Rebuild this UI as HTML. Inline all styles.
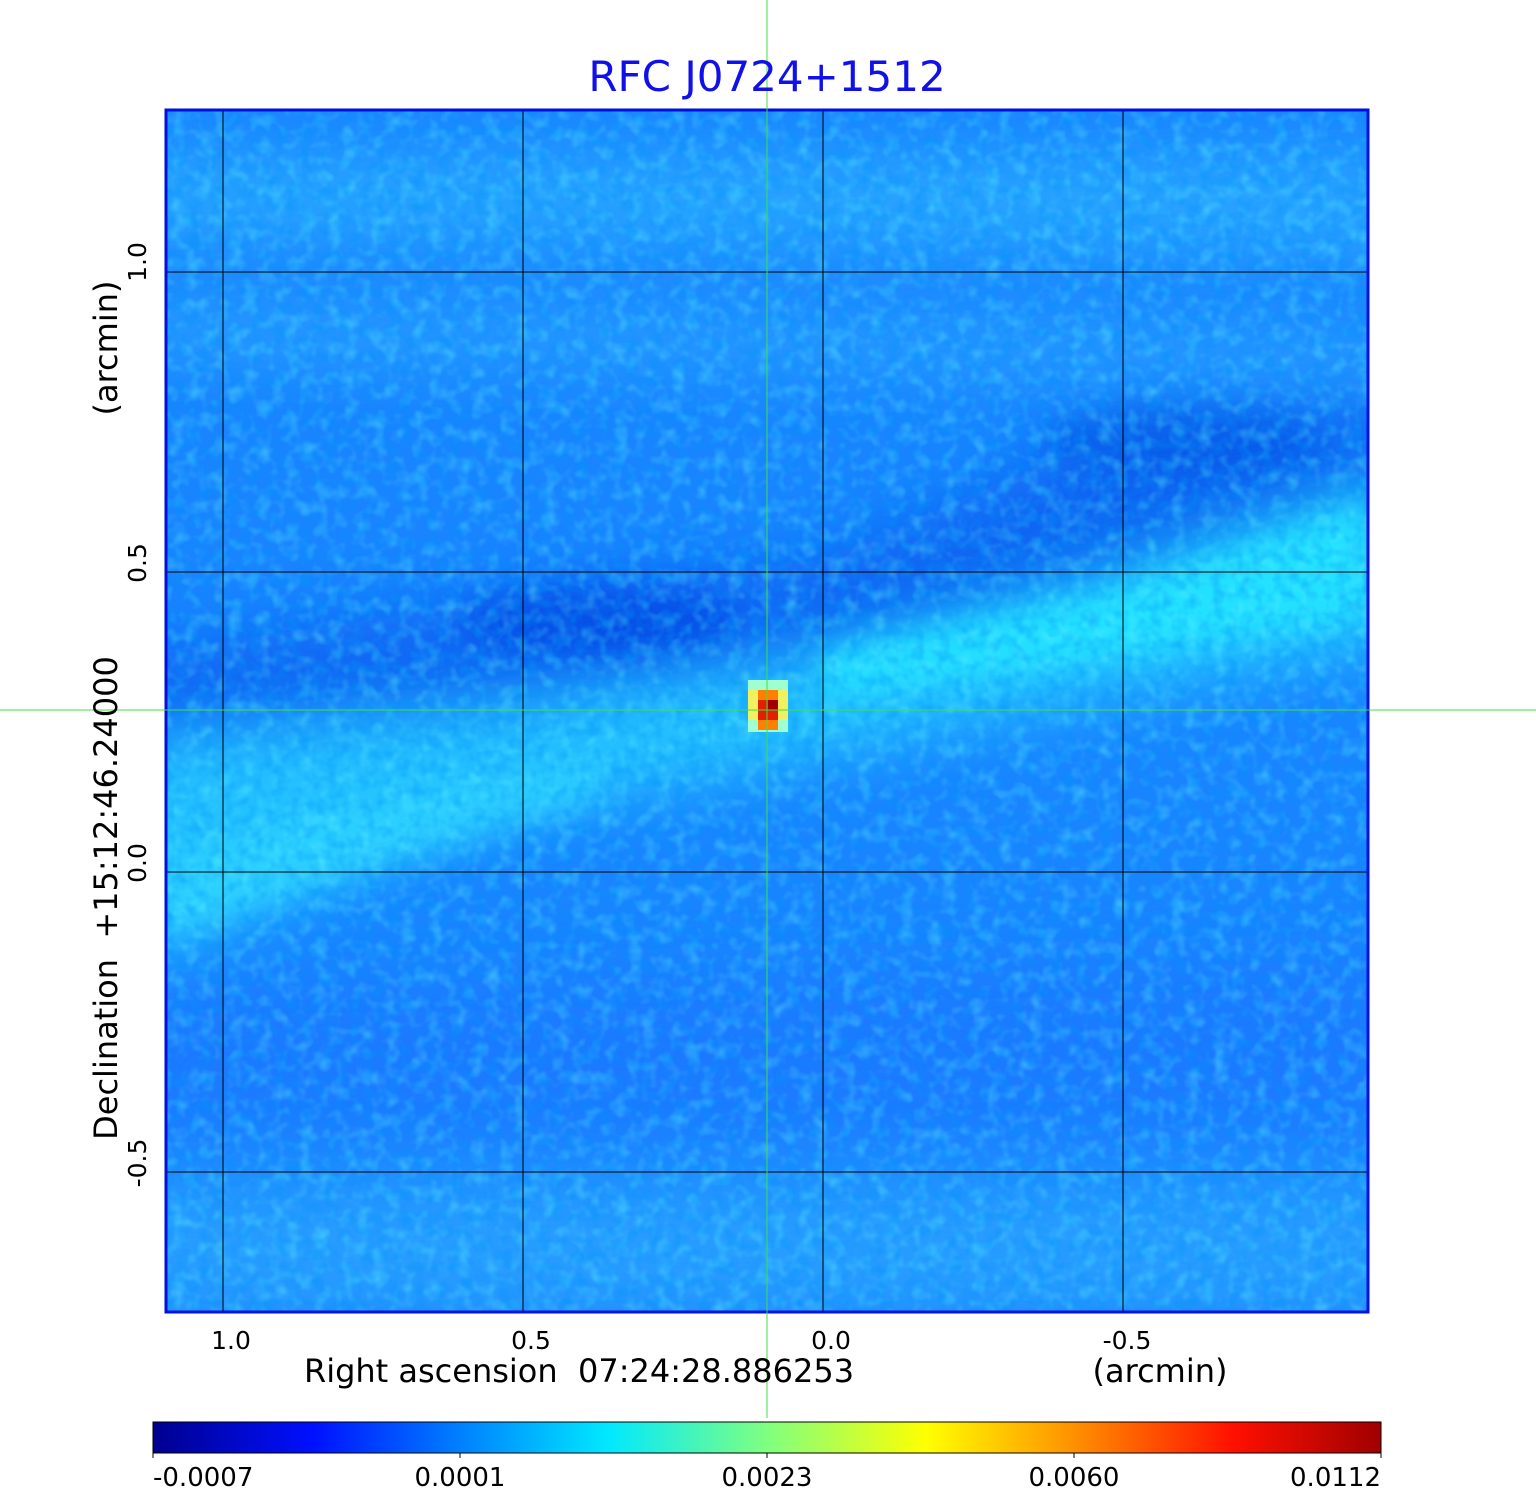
<!DOCTYPE html>
<html><head><style>
html,body{margin:0;padding:0;background:#fff;}
body{width:1536px;height:1511px;position:relative;overflow:hidden;font-family:"DejaVu Sans","Liberation Sans",sans-serif;}
</style></head><body>
<svg width="1536" height="1511" style="position:absolute;left:0;top:0" font-family="DejaVu Sans, Liberation Sans, sans-serif">
<defs>
<filter id="b30" x="-20%" y="-20%" width="140%" height="140%"><feGaussianBlur stdDeviation="30"/></filter>
<filter id="b15" x="-20%" y="-20%" width="140%" height="140%"><feGaussianBlur stdDeviation="15"/></filter>
<filter id="noise"><feTurbulence type="fractalNoise" baseFrequency="0.07" numOctaves="2" seed="4"/><feColorMatrix values="0 0 0 0 0.1  0 0 0 0 0.85  0 0 0 0 1  0 0 0 1.8 -0.8"/></filter>
<filter id="noise2"><feTurbulence type="fractalNoise" baseFrequency="0.08" numOctaves="2" seed="9"/><feColorMatrix values="0 0 0 0 0  0 0 0 0 0.3  0 0 0 0 0.95  0 0 0 1.8 -0.75"/></filter>
<clipPath id="clip"><rect x="166" y="110" width="1202" height="1202"/></clipPath>
<linearGradient id="cb" x1="0" x2="1" y1="0" y2="0">
<stop offset="0" stop-color="#00008f"/>
<stop offset="0.13" stop-color="#0010ff"/>
<stop offset="0.25" stop-color="#0080ff"/>
<stop offset="0.37" stop-color="#00e8ff"/>
<stop offset="0.5" stop-color="#80ff80"/>
<stop offset="0.63" stop-color="#ffff00"/>
<stop offset="0.75" stop-color="#ff9000"/>
<stop offset="0.88" stop-color="#ff1000"/>
<stop offset="1" stop-color="#a00000"/>
</linearGradient>
</defs>
<g clip-path="url(#clip)">
<rect x="166" y="110" width="1202" height="1202" fill="#1a84ff"/>
<g filter="url(#b30)" opacity="0.85">
<polygon points="100,150 1400,150 1400,260 100,240" fill="#2aa8ff"/>
<polygon points="100,300 1400,330 1400,380 100,360" fill="#2aa0ff"/>
<polygon points="100,660 500,600 820,560 1100,440 1400,400 1400,500 820,650 500,700 100,730" fill="#0a5ef0"/>
<polygon points="100,750 500,710 820,660 1100,580 1400,480 1400,650 1100,700 820,760 500,820 100,970" fill="#28ccff"/>
<polygon points="100,990 1400,960 1400,1130 100,1130" fill="#1a78ff"/>
<polygon points="100,1180 1400,1180 1400,1320 100,1320" fill="#2aa0ff"/>
</g>
<g filter="url(#b15)">
<polygon points="820,650 1100,590 1370,500 1370,620 1100,660 820,700" fill="#22f0ff" opacity="0.7"/>
<polygon points="166,860 400,800 600,760 600,800 400,860 166,940" fill="#30e0ff" opacity="0.6"/>
<ellipse cx="600" cy="620" rx="140" ry="35" fill="#0040e0" opacity="0.6"/>
<ellipse cx="1180" cy="440" rx="140" ry="35" fill="#0050e0" opacity="0.5"/>
</g>
<rect x="166" y="110" width="1202" height="1202" filter="url(#noise)" opacity="0.55"/>
<rect x="166" y="110" width="1202" height="1202" filter="url(#noise2)" opacity="0.55"/>
<rect x="748" y="680" width="40" height="52" fill="#a0ffd0"/>
<rect x="748" y="690" width="40" height="30" fill="#f0f060"/>
<rect x="758" y="690" width="20" height="40" fill="#ff8000"/>
<rect x="758" y="700" width="20" height="20" fill="#e02000"/>
<rect x="768" y="700" width="10" height="10" fill="#a00000"/>
<g stroke="#000" stroke-width="1">
<line x1="223" y1="110" x2="223" y2="1312"/><line x1="523" y1="110" x2="523" y2="1312"/>
<line x1="823" y1="110" x2="823" y2="1312"/><line x1="1123" y1="110" x2="1123" y2="1312"/>
<line x1="166" y1="272" x2="1368" y2="272"/><line x1="166" y1="572" x2="1368" y2="572"/>
<line x1="166" y1="872" x2="1368" y2="872"/><line x1="166" y1="1172" x2="1368" y2="1172"/>
</g>
</g>
<rect x="166" y="110" width="1202" height="1202" fill="none" stroke="#0010e0" stroke-width="3"/>
<line x1="767" y1="0" x2="767" y2="1418" stroke="#40e040" stroke-width="1"/>
<line x1="0" y1="710" x2="1536" y2="710" stroke="#40e040" stroke-width="1"/>
<text x="767" y="91" text-anchor="middle" font-size="42" fill="#1010e8">RFC J0724+1512</text>
<g font-size="25" fill="#000">
<text x="231" y="1349" text-anchor="middle">1.0</text>
<text x="531" y="1349" text-anchor="middle">0.5</text>
<text x="831" y="1349" text-anchor="middle">0.0</text>
<text x="1127" y="1349" text-anchor="middle">-0.5</text>
<text transform="translate(146,262) rotate(-90)" text-anchor="middle">1.0</text>
<text transform="translate(146,563) rotate(-90)" text-anchor="middle">0.5</text>
<text transform="translate(146,863) rotate(-90)" text-anchor="middle">0.0</text>
<text transform="translate(146,1163) rotate(-90)" text-anchor="middle">-0.5</text>
</g>
<g font-size="32" fill="#000">
<text x="579" y="1382" text-anchor="middle" xml:space="preserve">Right ascension  07:24:28.886253</text>
<text x="1160" y="1382" text-anchor="middle">(arcmin)</text>
<text transform="translate(117,898) rotate(-90)" text-anchor="middle" xml:space="preserve">Declination  +15:12:46.24000</text>
<text transform="translate(117,348) rotate(-90)" text-anchor="middle">(arcmin)</text>
</g>
<rect x="153" y="1422" width="1228" height="31" fill="url(#cb)" stroke="#000" stroke-width="1"/>
<g stroke="#000"><line x1="460" y1="1453" x2="460" y2="1458"/><line x1="767" y1="1453" x2="767" y2="1458"/><line x1="1074" y1="1453" x2="1074" y2="1458"/><line x1="153" y1="1453" x2="153" y2="1458"/><line x1="1381" y1="1453" x2="1381" y2="1458"/></g>
<g font-size="26" fill="#000">
<text x="153" y="1486">-0.0007</text>
<text x="460" y="1486" text-anchor="middle">0.0001</text>
<text x="767" y="1486" text-anchor="middle">0.0023</text>
<text x="1074" y="1486" text-anchor="middle">0.0060</text>
<text x="1381" y="1486" text-anchor="end">0.0112</text>
</g>
</svg>
</body></html>
